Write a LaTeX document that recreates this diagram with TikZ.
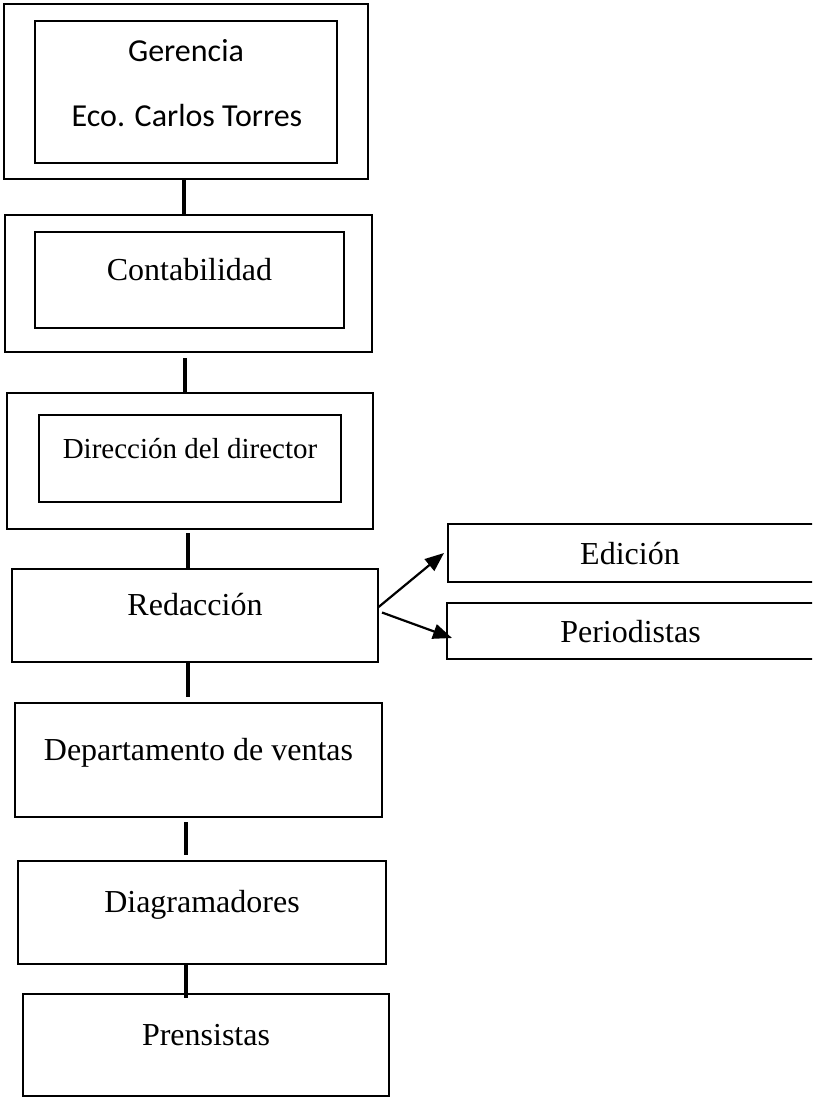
\documentclass[tikz,border=0pt]{standalone}
\usepackage{fontspec}
\setmainfont{Liberation Serif}
\newfontfamily\calibrifont{Carlito}
\usetikzlibrary{arrows.meta}
\tikzset{
  box/.style={draw, line width=2.5pt, inner sep=0pt, outer sep=0pt,
    font=\fontsize{32}{38}\selectfont, text height=22pt, text depth=22pt},
  sidebox/.style={box, text height=22pt, text depth=0pt},
  link/.style={line width=4pt},
  arr/.style={line width=2.2pt, -{Triangle[length=19pt,width=15pt]}},
  gtext/.style={anchor=base, inner sep=0pt, font=\calibrifont\fontsize{32}{38}\selectfont}
}
\begin{document}
\begin{tikzpicture}[x=1pt,y=-1pt]
\clip (0,0) rectangle (812,1097);
\fill[white] (0,0) rectangle (812,1097);
% Gerencia
\node[box, minimum width=364pt, minimum height=175pt] (Gout) at (186,91.5) {};
\node[box, minimum width=302pt, minimum height=142pt] (Gin) at (186,92) {};
\node[gtext] (g1) at (186,62) {Gerencia};
\node[gtext] (g2) at (187,127) {Eco. Carlos Torres};
% Contabilidad
\node[box, minimum width=367pt, minimum height=137pt] (Cout) at (188.5,283.5) {};
\node[box, minimum width=309pt, minimum height=96pt] (Cin) at (189.5,280) {Contabilidad};
% Direccion
\node[box, minimum width=366pt, minimum height=136pt] (Dout) at (190,461) {};
\node[box, minimum width=302pt, minimum height=87pt, font=\fontsize{29}{34}\selectfont] (Din) at (190,458.5) {Dirección del director};
% Redaccion
\node[box, minimum width=366pt, minimum height=93pt] (R) at (195,615.5) {Redacción};
\node[sidebox, minimum width=372pt, minimum height=58pt] (E) at (634,553) {\hspace*{-8pt}Edición};
\node[sidebox, minimum width=373pt, minimum height=56pt] (P) at (633.5,631) {\hspace*{-6pt}Periodistas};
% lower boxes
\node[box, minimum width=367pt, minimum height=114pt] (Dep) at (198.5,760) {Departamento de ventas};
\node[box, minimum width=368pt, minimum height=103pt] (Dia) at (202,912.5) {Diagramadores};
\node[box, minimum width=366pt, minimum height=102pt] (Pre) at (206,1045) {Prensistas};
% connector x positions
\coordinate (x1) at (184,0);
\coordinate (x2) at (185,0);
\coordinate (x3) at (188,0);
\coordinate (x4) at (188,0);
\coordinate (x5) at (186,0);
\coordinate (x6) at (186,0);
% connectors
\draw[link] (Gout.south -| x1) -- (Cout.north -| x1);
\draw[link, shorten <=6pt] (Cout.south -| x2) -- (Dout.north -| x2);
\draw[link, shorten <=4pt] (Dout.south -| x3) -- (R.north -| x3);
\draw[link, shorten >=6pt] (R.south -| x4) -- (Dep.north -| x4);
\draw[link, shorten <=5pt, shorten >=6pt] (Dep.south -| x5) -- (Dia.north -| x5);
\draw[link, shorten >=-4pt] (Dia.south -| x6) -- (Pre.north -| x6);
% arrows
\draw[arr] ([yshift=8pt]R.east) -- ([xshift=-4pt]E.west);
\draw[arr] ([xshift=4pt,yshift=3pt]R.east) -- ([xshift=5pt,yshift=-7pt]P.west);
\end{tikzpicture}
\end{document}
